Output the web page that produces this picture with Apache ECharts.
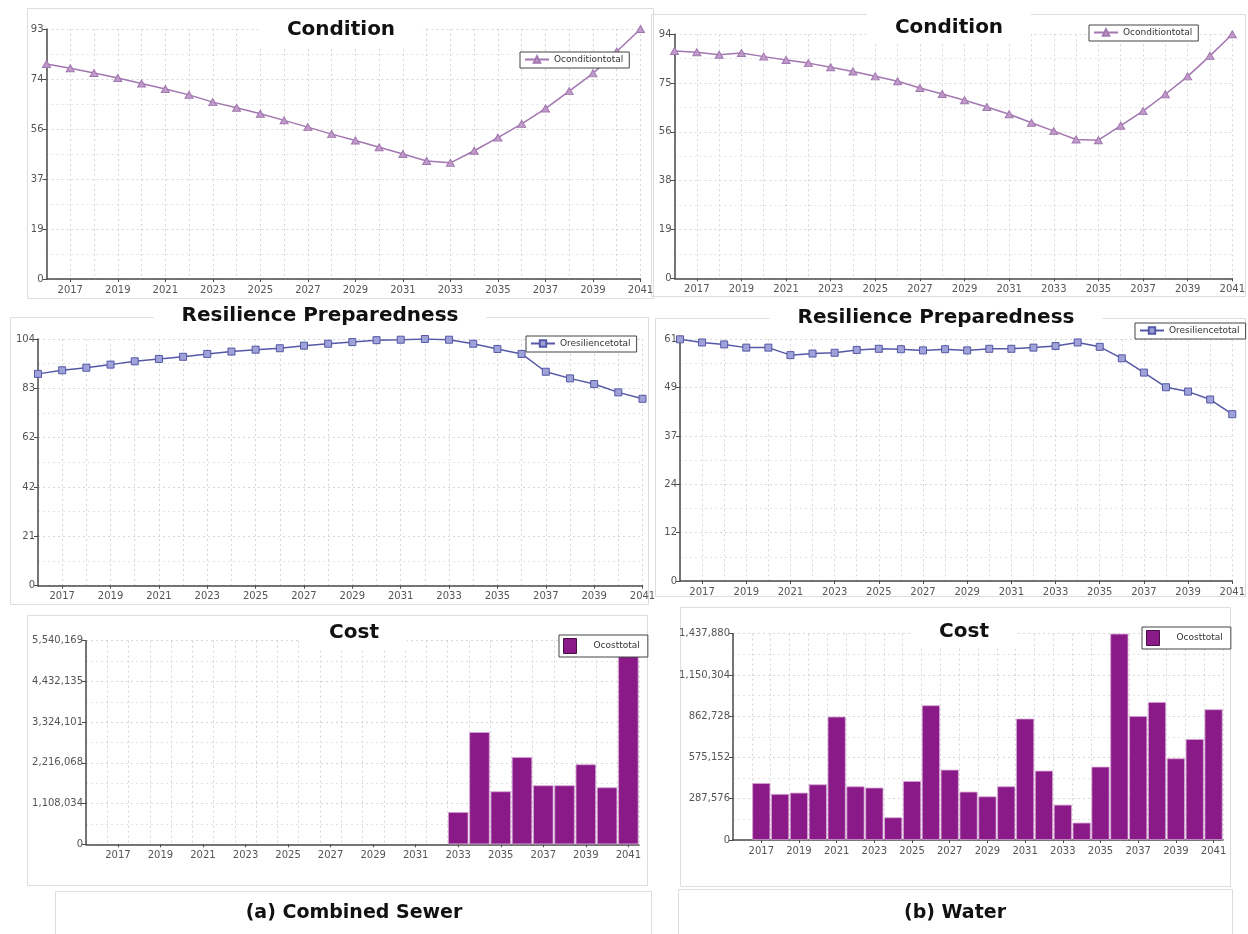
<!DOCTYPE html>
<html>
<head>
<meta charset="utf-8">
<title>Condition, Resilience Preparedness and Cost</title>
<script src="https://cdn.jsdelivr.net/npm/echarts@6/dist/echarts.min.js"></script>
<style>
  html, body { margin: 0; padding: 0; background: #fff; }
  #chart { width: 1248px; height: 934px; }
</style>
</head>
<body>
<div id="chart"></div>
<script>
const years = ['2016', '2017', '2018', '2019', '2020', '2021', '2022', '2023', '2024', '2025', '2026', '2027', '2028',
  '2029', '2030', '2031', '2032', '2033', '2034', '2035', '2036', '2037', '2038', '2039', '2040', '2041']

// (a) Combined Sewer
const conditionSewer = [80.0, 78.4, 76.6, 74.8, 72.7, 70.7, 68.5, 65.8, 63.7, 61.5, 59.0, 56.5, 53.9,
  51.5, 49.0, 46.5, 43.9, 43.2, 47.7, 52.6, 57.7, 63.4, 69.9, 76.5, 84.6, 93.0]
const resilienceSewer = [89.3, 90.8, 91.9, 93.2, 94.6, 95.6, 96.5, 97.7, 98.7, 99.5, 100.1, 101.2, 102.0,
  102.7, 103.5, 103.7, 104.0, 103.7, 102.0, 99.8, 97.7, 90.2, 87.4, 85.0, 81.5, 78.8]
const costSewer = [null, null, null, null, null, null, null, null, null, null, null, null, null,
  null, null, null, null, 878000, 3054000, 1441000, 2375000, 1605000, 1605000, 2176000, 1550000, 5540169]

// (b) Water
const conditionWater = [87.6, 87.1, 86.1, 86.8, 85.4, 84.1, 82.9, 81.3, 79.7, 77.8, 75.9, 73.3, 71.0,
  68.6, 66.0, 63.2, 59.9, 56.7, 53.5, 53.2, 58.8, 64.4, 70.9, 77.8, 85.7, 94.0]
const resilienceWater = [61.0, 60.2, 59.7, 58.9, 58.9, 57.0, 57.4, 57.6, 58.3, 58.6, 58.5, 58.2, 58.5,
  58.2, 58.6, 58.6, 58.9, 59.3, 60.2, 59.1, 56.2, 52.6, 48.9, 47.8, 45.8, 42.1]
const costWater = [null, 397000, 321000, 330000, 388000, 860000, 374000, 365000, 158000, 411000, 939000, 490000, 337000,
  304000, 374000, 846000, 483000, 246000, 121000, 511000, 1437880, 864000, 962000, 569000, 704000, 911000]

// y tick labels as printed (axis max split in five, rounded)
const conditionSewerTicks = ['0', '19', '37', '56', '74', '93']
const conditionWaterTicks = ['0', '19', '38', '56', '75', '94']
const resilienceSewerTicks = ['0', '21', '42', '62', '83', '104']
const resilienceWaterTicks = ['0', '12', '24', '37', '49', '61']
const costSewerTicks = ['0', '1,108,034', '2,216,068', '3,324,101', '4,432,135', '5,540,169']
const costWaterTicks = ['0', '287,576', '575,152', '862,728', '1,150,304', '1,437,880']

const chart = echarts.init(document.getElementById('chart'))

const FONT = 'DejaVu Sans'
const TITLE_PAD = 28
const gridLine = { color: '#d6d6d6', type: [2, 3], width: 1 }
const minorLine = { color: '#e4e4e4', type: [2, 3], width: 1 }
const oddYear = (i) => i % 2 === 1

const panels = [
  { title: 'Condition', tx: 341, ty: 30, grid: { left: 46.5, top: 29, width: 594, height: 250 },
    ticks: conditionSewerTicks, max: 93, bars: false, legend: [520, 52] },
  { title: 'Condition', tx: 949, ty: 28, grid: { left: 674.5, top: 34.3, width: 563.5, height: 244 },
    ticks: conditionWaterTicks, max: 94, bars: false, legend: [1089, 25] },
  { title: 'Resilience Preparedness', tx: 320, ty: 316, grid: { left: 38, top: 339, width: 604.5, height: 246.7 },
    ticks: resilienceSewerTicks, max: 104, bars: false, legend: [526, 336] },
  { title: 'Resilience Preparedness', tx: 936, ty: 317.5, grid: { left: 680, top: 339.3, width: 558, height: 241.7 },
    ticks: resilienceWaterTicks, max: 61, bars: false, legend: [1135, 323] },
  { title: 'Cost', tx: 354, ty: 633, grid: { left: 86, top: 640.7, width: 553, height: 203.6 },
    ticks: costSewerTicks, max: 5540169, bars: true, legend: [559, 635] },
  { title: 'Cost', tx: 964, ty: 632, grid: { left: 733, top: 633.7, width: 490, height: 206.3 },
    ticks: costWaterTicks, max: 1437880, bars: true, legend: [1142, 627] },
]

const grids = panels.map((p) => ({ ...p.grid, containLabel: false }))

const xAxes = panels.map((p, i) => ({
  gridIndex: i,
  type: 'category',
  data: years,
  boundaryGap: p.bars,
  axisLine: { lineStyle: { color: '#4a4a4a', width: 1.5 } },
  axisTick: { show: true, interval: oddYear, alignWithLabel: true, length: 3, lineStyle: { color: '#4a4a4a' } },
  axisLabel: { interval: oddYear, fontSize: 10, color: '#555', margin: 6, fontFamily: FONT },
  splitLine: { show: true, interval: 0, lineStyle: gridLine },
}))

const yAxes = panels.map((p, i) => {
  const step = p.max / 5
  return {
    gridIndex: i,
    type: 'value',
    min: 0,
    max: p.max,
    interval: step,
    axisLine: { show: true, lineStyle: { color: '#4a4a4a', width: 1.5 } },
    axisTick: { show: true, length: 4, lineStyle: { color: '#4a4a4a' } },
    axisLabel: {
      fontSize: 10, color: '#555', margin: 3, fontFamily: FONT,
      formatter: (v) => p.ticks[Math.round(v / step)],
    },
    splitLine: { show: true, lineStyle: gridLine },
    minorTick: { show: false, splitNumber: 2 },
    minorSplitLine: { show: true, lineStyle: minorLine },
  }
})

function lineSeries(name, data, idx, symbol, line, fill) {
  return {
    name,
    type: 'line',
    xAxisIndex: idx,
    yAxisIndex: idx,
    data,
    symbol,
    symbolSize: symbol === 'triangle' ? [8, 7] : 7,
    showAllSymbol: true,
    lineStyle: { color: line, width: 1.5 },
    itemStyle: { color: fill, borderColor: line, borderWidth: 1 },
  }
}

function barSeries(data, idx) {
  return {
    name: 'Ocosttotal',
    type: 'bar',
    xAxisIndex: idx,
    yAxisIndex: idx,
    data,
    barCategoryGap: '4%',
    itemStyle: { color: '#8b1a89', borderColor: '#d6a6d4', borderWidth: 0.8 },
  }
}

const series = [
  lineSeries('Oconditiontotal', conditionSewer, 0, 'triangle', '#a276b0', '#bf9ac8'),
  lineSeries('Oconditiontotal', conditionWater, 1, 'triangle', '#a276b0', '#bf9ac8'),
  lineSeries('Oresiliencetotal', resilienceSewer, 2, 'rect', '#5558a6', '#9ea2d8'),
  lineSeries('Oresiliencetotal', resilienceWater, 3, 'rect', '#5558a6', '#9ea2d8'),
  barSeries(costSewer, 4),
  barSeries(costWater, 5),
]

const legendNames = ['Oconditiontotal', 'Oconditiontotal', 'Oresiliencetotal', 'Oresiliencetotal', 'Ocosttotal', 'Ocosttotal']

const legends = panels.map((p, i) => {
  const isBar = p.bars
  const legend = {
    data: isBar ? [{ name: legendNames[i], icon: 'rect' }] : [legendNames[i]],
    left: p.legend[0],
    top: p.legend[1],
    selectedMode: false,
    backgroundColor: '#fff',
    borderColor: '#444',
    borderWidth: 1,
    padding: isBar ? [3, 8, 3, 4] : [3, 6, 4, 4],
    itemWidth: isBar ? 13 : 24,
    itemHeight: isBar ? 15 : 8,
    itemGap: 0,
    textStyle: { fontSize: 9, color: '#333', fontFamily: FONT, padding: isBar ? [0, 0, 0, 12] : 0 },
    z: 10,
  }
  if (isBar) legend.itemStyle = { borderColor: '#4a0f49', borderWidth: 1 }
  return legend
})

// title text ends up shifted right by its left padding, so pull it back
const titles = panels.map((p) => ({
  text: p.title,
  left: p.tx - TITLE_PAD,
  top: p.ty - 14,
  textAlign: 'center',
  backgroundColor: '#fff',
  padding: [4, TITLE_PAD, 6, TITLE_PAD],
  textStyle: { fontSize: 20, fontWeight: 'bold', color: '#111', fontFamily: FONT },
  z: 8,
}))

titles.push(
  { text: '(a) Combined Sewer', left: 354, top: 904, textAlign: 'center', padding: 0,
    textStyle: { fontSize: 19, fontWeight: 'bold', color: '#111', fontFamily: FONT } },
  { text: '(b) Water', left: 955, top: 904, textAlign: 'center', padding: 0,
    textStyle: { fontSize: 19, fontWeight: 'bold', color: '#111', fontFamily: FONT } }
)

const frames = [
  [27, 8, 626, 290], [651, 14, 594, 282],
  [10, 317, 638, 287], [655, 318, 590, 278],
  [27, 615, 620, 270], [680, 607, 550, 279],
  [55, 891, 596, 60], [678, 889, 554, 60],
]

const option = {
  backgroundColor: '#fff',
  animation: false,
  title: titles,
  legend: legends,
  grid: grids,
  xAxis: xAxes,
  yAxis: yAxes,
  series,
  graphic: frames.map((f) => ({
    type: 'rect',
    z: -1,
    silent: true,
    shape: { x: f[0] + 0.5, y: f[1] + 0.5, width: f[2], height: f[3] },
    style: { fill: 'none', stroke: '#dddddd', lineWidth: 1 },
  })),
}

chart.setOption(option)

window.addEventListener('resize', () => chart.resize())
</script>
</body>
</html>
